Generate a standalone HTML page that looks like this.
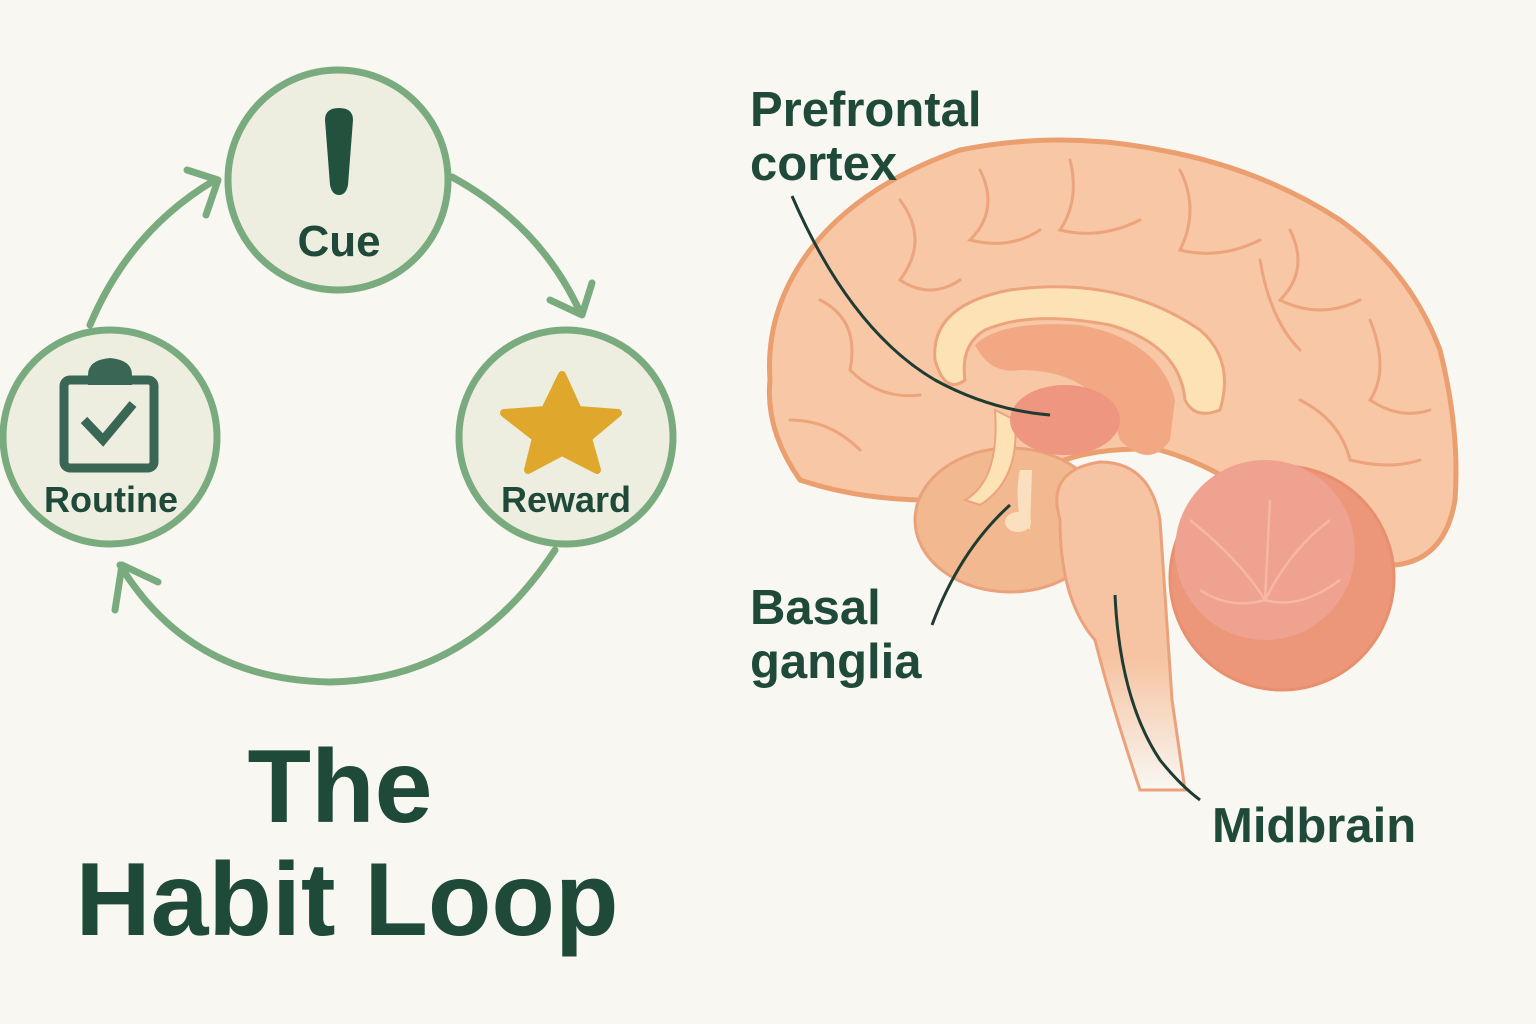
<!DOCTYPE html>
<html><head><meta charset="utf-8"><style>
html,body{margin:0;padding:0;background:#f8f7f2;}
svg{display:block}
text{font-family:"Liberation Sans","DejaVu Sans",sans-serif;font-weight:bold;fill:#1f4a3a}
</style></head><body>
<svg width="1536" height="1024" viewBox="0 0 1536 1024" xmlns="http://www.w3.org/2000/svg">
<rect width="1536" height="1024" fill="#f8f7f2"/>
<g fill="none" stroke="#7aab7e" stroke-width="7" stroke-linecap="round" stroke-linejoin="round">
<path d="M90 325 Q130 230 215 180"/>
<path d="M187 170 L218 180 L206 215"/>
<path d="M452 177 Q540 225 580 312"/>
<path d="M550 300 L582 315 L592 283"/>
<path d="M555 550 Q470 680 330 682 Q190 680 120 565"/>
<path d="M115 610 L122 565 L158 582"/>
</g>
<g fill="#eeeee0" stroke="#7aab7e" stroke-width="7">
<circle cx="338" cy="180" r="110"/>
<circle cx="110" cy="437" r="107"/>
<circle cx="566" cy="437" r="107"/>
</g>
<path d="M325 120 Q325 108 339 108 Q353 108 353 120 L348 185 Q346 195 339 195 Q332 195 330 185 Z" fill="#22523e"/>
<text x="339" y="256" font-size="44" text-anchor="middle">Cue</text>
<rect x="64" y="380" width="90" height="88" rx="6" fill="none" stroke="#3a6655" stroke-width="9"/>
<path d="M88 385 L88 375 Q88 360 110 358 Q132 360 132 375 L132 385 Z" fill="#3a6655"/>
<path d="M84 420 L103 440 L133 404" fill="none" stroke="#3a6655" stroke-width="9"/>
<text x="111" y="512" font-size="36" text-anchor="middle">Routine</text>
<path d="M562 375 L578 410 L618 413 L588 438 L597 470 L562 452 L528 470 L536 438 L504 413 L545 410 Z" fill="#dfa82c" stroke="#dfa82c" stroke-width="8" stroke-linejoin="round"/>
<text x="566" y="512" font-size="36" text-anchor="middle">Reward</text>
<text x="340" y="822" font-size="104" text-anchor="middle">The</text>
<text x="347" y="935" font-size="104" text-anchor="middle">Habit Loop</text>

<defs><linearGradient id="fade" x1="0" y1="0" x2="0" y2="1"><stop offset="0.6" stop-color="#f6c4a2"/><stop offset="1" stop-color="#f6c4a2" stop-opacity="0"/></linearGradient></defs>
<!-- cerebrum -->
<path d="M800 480 Q765 430 770 380 Q765 310 810 250 Q860 185 960 150 Q1060 130 1160 150 Q1260 168 1340 220 Q1410 270 1440 350 Q1460 430 1455 500 Q1445 560 1395 565 Q1330 560 1280 520 Q1230 470 1160 450 Q1090 445 1040 470 Q990 495 930 500 Q860 500 800 480 Z" fill="#f8c7a6" stroke="#eb9e6e" stroke-width="5"/>
<g fill="none" stroke="#eba47b" stroke-width="3" stroke-linecap="round">
<path d="M820 300 Q860 320 850 370 Q880 400 920 395"/>
<path d="M900 200 Q930 240 900 280 Q930 300 960 280"/>
<path d="M980 170 Q1000 210 970 240 Q1010 250 1040 230"/>
<path d="M1070 160 Q1080 200 1060 230 Q1100 240 1140 220"/>
<path d="M1180 170 Q1200 210 1180 250 Q1220 260 1260 240"/>
<path d="M1290 230 Q1310 270 1280 300 Q1320 320 1360 300"/>
<path d="M1370 320 Q1390 370 1370 400 Q1400 420 1430 410"/>
<path d="M1300 400 Q1340 420 1350 460 Q1390 470 1420 460"/>
<path d="M790 420 Q830 420 860 450"/>
<path d="M1260 260 Q1270 320 1300 350"/>
</g>
<!-- temporal lower -->
<ellipse cx="1010" cy="520" rx="95" ry="72" fill="#f2b88f" stroke="#e9a27c" stroke-width="3"/>
<!-- cerebellum -->
<circle cx="1282" cy="578" r="112" fill="#ec967a" stroke="#e8906e" stroke-width="3"/>
<circle cx="1265" cy="550" r="90" fill="#efa290"/>
<g fill="none" stroke="#f6b8a4" stroke-width="2.5">
<path d="M1190 520 Q1240 560 1265 600 M1265 600 Q1290 550 1330 520 M1265 600 L1270 500 M1265 600 Q1230 610 1200 590 M1265 600 Q1300 610 1340 580"/>
</g>
<!-- brainstem -->
<path d="M1060 520 Q1045 470 1100 462 Q1150 462 1160 520 L1172 700 L1185 790 L1140 790 Q1110 700 1095 640 Q1060 600 1060 520 Z" fill="url(#fade)" stroke="#eba27a" stroke-width="3"/>
<!-- corpus callosum -->
<path d="M935 360 Q930 305 1010 290 Q1120 275 1200 330 Q1235 360 1220 410 Q1195 420 1185 400 Q1180 345 1110 325 Q1030 310 985 330 Q960 345 965 380 Q945 395 935 360 Z" fill="#fde2b6" stroke="#eba47b" stroke-width="3"/>
<path d="M995 410 Q1000 480 965 500 L980 505 Q1020 480 1015 420 Z" fill="#fde2b6" stroke="#eba47b" stroke-width="2"/>
<path d="M975 345 Q1000 320 1080 325 Q1160 340 1175 400 L1170 440 Q1150 470 1120 440 Q1100 370 1020 370 Q990 375 975 345 Z" fill="#f2a882"/>
<ellipse cx="1065" cy="420" rx="55" ry="35" fill="#ef9680"/>
<path d="M1020 470 Q1015 490 1020 520 L1030 530 L1032 470 Z" fill="#fbe0bf"/>
<ellipse cx="1018" cy="522" rx="13" ry="10" fill="#fbe0bf"/>
<g fill="none" stroke="#1f3c33" stroke-width="3">
<path d="M792 196 Q850 330 935 380 Q990 410 1050 415"/>
<path d="M932 625 Q960 550 1010 505"/>
<path d="M1115 595 Q1120 700 1160 760 Q1180 785 1200 800"/>
</g>
<text x="750" y="126" font-size="49">Prefrontal</text>
<text x="750" y="180" font-size="49">cortex</text>
<text x="750" y="624" font-size="49">Basal</text>
<text x="750" y="678" font-size="49">ganglia</text>
<text x="1212" y="842" font-size="49">Midbrain</text>
</svg>
</body></html>
